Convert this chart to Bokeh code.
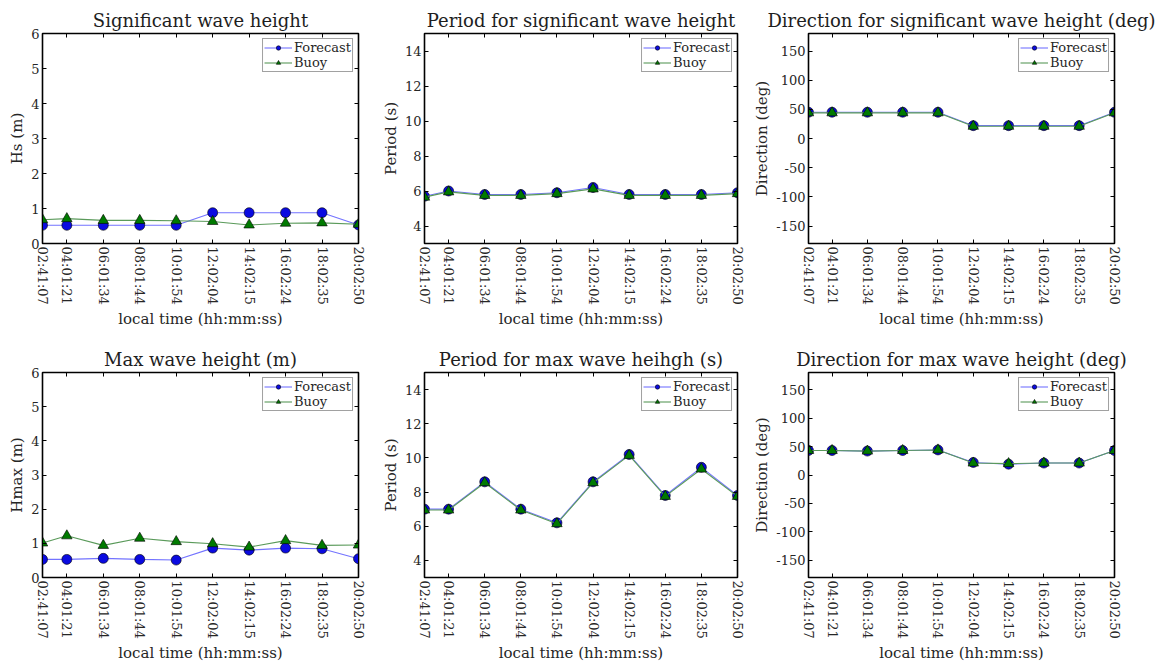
from bokeh.plotting import figure
from bokeh.layouts import column, row
from bokeh.models import (Range1d, FixedTicker, LinearAxis, Legend, LegendItem,
                          CustomLabelingPolicy)
from bokeh.embed import file_html
from bokeh.resources import INLINE

# ---- data ----
time_labels = ["02:41:07", "04:01:21", "06:01:34", "08:01:44", "10:01:54",
               "12:02:04", "14:02:15", "16:02:24", "18:02:35", "20:02:50"]

hs_forecast = [0.52, 0.52, 0.52, 0.52, 0.52, 0.88, 0.88, 0.88, 0.88, 0.53]
hs_buoy = [0.68, 0.71, 0.66, 0.66, 0.65, 0.63, 0.53, 0.58, 0.59, 0.55]

tp_forecast = [5.7, 6.0, 5.8, 5.8, 5.9, 6.2, 5.8, 5.8, 5.8, 5.9]
tp_buoy = [5.65, 5.95, 5.75, 5.75, 5.85, 6.12, 5.75, 5.75, 5.75, 5.85]

dir_forecast = [45, 45, 45, 45, 45, 22, 22, 22, 22, 45]
dir_buoy = [44, 44, 44, 44, 44, 21, 21, 21, 21, 44]

hmax_forecast = [0.53, 0.53, 0.56, 0.53, 0.51, 0.86, 0.80, 0.86, 0.84, 0.55]
hmax_buoy = [1.01, 1.22, 0.94, 1.15, 1.05, 0.99, 0.89, 1.08, 0.94, 0.95]

tmax_forecast = [7.0, 7.0, 8.6, 7.0, 6.2, 8.6, 10.2, 7.8, 9.45, 7.8]
tmax_buoy = [6.95, 6.95, 8.55, 6.95, 6.15, 8.55, 10.15, 7.75, 9.35, 7.75]

dmax_forecast = [43, 43, 42, 43, 44, 22, 19, 21, 21, 43]
dmax_buoy = [43, 43, 42, 43, 44, 21, 20, 21, 21, 43]

h_ticks = [0, 1, 2, 3, 4, 5, 6]
t_ticks = [4, 6, 8, 10, 12, 14]
d_ticks = [-150, -100, -50, 0, 50, 100, 150]


def to_sec(t):
    h, m, s = t.split(":")
    return int(h) * 3600 + int(m) * 60 + int(s)


x = [to_sec(t) for t in time_labels]

FONT = "DejaVu Serif"
TXT = "#262626"

NO_LABELS = """
for (const i of indices) { indices.unset(i) }
return indices
"""


def make_panel(title, ylabel, fc, by, yr, yticks, width, height,
               bl, br, bt, bb):
    p = figure(width=width, height=height, output_backend="svg",
               toolbar_location=None, x_range=Range1d(x[0], x[-1]),
               y_range=Range1d(*yr), min_border_left=bl,
               min_border_right=br, min_border_top=bt,
               min_border_bottom=bb)
    p.title.text = title
    p.title.align = "center"
    p.title.text_font = FONT
    p.title.text_font_size = "18px"
    p.title.text_font_style = "normal"
    p.title.text_color = "#1e1e1e"
    p.title.standoff = 5
    p.title.offset = 0
    p.grid.visible = False
    p.outline_line_color = "black"
    p.outline_line_width = 1.6
    p.background_fill_color = "white"
    p.border_fill_color = "white"

    p.xaxis.ticker = FixedTicker(ticks=x)
    p.yaxis.ticker = FixedTicker(ticks=yticks)
    p.xaxis.major_label_overrides = {xv: lab for xv, lab in zip(x, time_labels)}
    p.yaxis.major_label_overrides = {v: str(v) for v in yticks}
    p.xaxis.major_label_orientation = "vertical"
    for ax in (p.xaxis[0], p.yaxis[0]):
        ax.major_tick_in = 4
        ax.major_tick_out = 0
        ax.minor_tick_line_color = None
        ax.axis_line_color = "black"
        ax.major_label_text_font = FONT
        ax.major_label_text_font_size = "13px"
        ax.major_label_text_color = TXT
        ax.axis_label_text_font = FONT
        ax.axis_label_text_font_size = "15px"
        ax.axis_label_text_font_style = "normal"
        ax.axis_label_text_color = TXT
        ax.major_label_standoff = 3
        ax.axis_label_standoff = 2
    p.xaxis.axis_label = "local time (hh:mm:ss)"
    p.yaxis.axis_label = ylabel

    for loc, tk in (("above", FixedTicker(ticks=x)), ("right", FixedTicker(ticks=yticks))):
        ax = LinearAxis(ticker=tk)
        ax.major_tick_in = 4
        ax.major_tick_out = 0
        ax.minor_tick_line_color = None
        ax.major_label_policy = CustomLabelingPolicy(code=NO_LABELS)
        ax.major_label_text_font_size = "0px"
        ax.major_label_standoff = 0
        ax.axis_label_standoff = 0
        ax.axis_line_color = "black"
        p.add_layout(ax, loc)

    lf = p.line(x, fc, line_color="#7373ff", line_width=1.1)
    sf = p.scatter(x, fc, marker="circle", size=10, fill_color="#0a0ae0",
                   line_color="black", line_width=0.6)
    lb = p.line(x, by, line_color="#5a9a5a", line_width=1.1)
    sb = p.scatter(x, by, marker="triangle", size=10.5, fill_color="#007a00",
                   line_color="black", line_width=0.6)

    leg = Legend(items=[LegendItem(label="Forecast", renderers=[lf, sf]),
                        LegendItem(label="Buoy", renderers=[lb, sb])],
                 location="top_right")
    leg.margin = 5
    leg.padding = 1
    leg.spacing = 0
    leg.label_text_font = FONT
    leg.label_text_font_size = "13px"
    leg.label_text_color = TXT
    leg.label_height = 11
    leg.glyph_height = 11
    leg.glyph_width = 28
    leg.label_standoff = 2
    leg.border_line_color = "#444444"
    leg.border_line_width = 1
    leg.background_fill_alpha = 1
    p.add_layout(leg)
    return p


r1 = dict(height=330, bt=33, bb=85)
r2 = dict(height=334, bt=42, bb=82)
c1 = dict(width=378, bl=42, br=20)
c2 = dict(width=372, bl=42, br=13)
c3 = dict(width=415, bl=49, br=51)

p1 = make_panel("Significant wave height", "Hs (m)", hs_forecast, hs_buoy,
                (0, 6), h_ticks, **c1, **r1)
p2 = make_panel("Period for significant wave height", "Period (s)", tp_forecast, tp_buoy,
                (3, 15), t_ticks, **c2, **r1)
p3 = make_panel("Direction for significant wave height (deg)", "Direction (deg)",
                dir_forecast, dir_buoy, (-180, 180), d_ticks, **c3, **r1)
p4 = make_panel("Max wave height (m)", "Hmax (m)", hmax_forecast, hmax_buoy,
                (0, 6), h_ticks, **c1, **r2)
p5 = make_panel("Period for max wave heihgh (s)", "Period (s)", tmax_forecast, tmax_buoy,
                (3, 15), t_ticks, **c2, **r2)
p6 = make_panel("Direction for max wave height (deg)", "Direction (deg)",
                dmax_forecast, dmax_buoy, (-180, 180), d_ticks, **c3, **r2)

layout = column(row(p1, p2, p3), row(p4, p5, p6))
layout.spacing = 0

open("out.html", "w").write(file_html(layout, INLINE))
